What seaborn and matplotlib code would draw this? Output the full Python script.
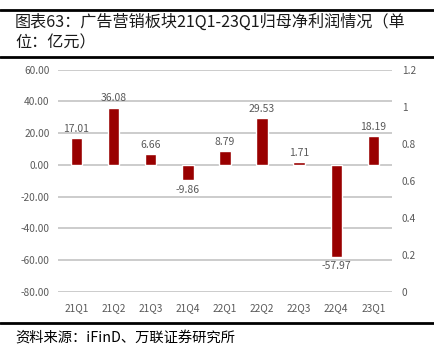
import numpy as np
import pandas as pd
import seaborn as sns
import matplotlib.pyplot as plt
from matplotlib.lines import Line2D

quarters = ["21Q1", "21Q2", "21Q3", "21Q4", "22Q1", "22Q2", "22Q3", "22Q4", "23Q1"]
profit = [17.01, 36.08, 6.66, -9.86, 8.79, 29.53, 1.71, -57.97, 18.19]
left_ticks = [-80, -60, -40, -20, 0, 20, 40, 60]
right_ticks = [0, 0.2, 0.4, 0.6, 0.8, 1.0, 1.2]
right_labels = ["0", "0.2", "0.4", "0.6", "0.8", "1", "1.2"]

title = "图表63：广告营销板块21Q1-23Q1归母净利润情况（单\n位：亿元）"
source = "资料来源：iFinD、万联证券研究所"

sns.set_style("white")
plt.rcParams['font.family'] = ['Noto Sans CJK SC', 'DejaVu Sans']

bar_col = "#990000"
grey = "#595959"

df = pd.DataFrame({"quarter": quarters, "profit": profit})

fig = plt.figure(figsize=(4.35, 3.54), dpi=100)
ax = fig.add_axes([0.133, 0.176, 0.768, 0.627])

sns.barplot(data=df, x="quarter", y="profit", color=bar_col, width=0.31,
            saturation=1, ax=ax, zorder=3)
ax.set_ylim(-80, 60)
ax.set_yticks(left_ticks)
ax.set_yticklabels([f"{v:.2f}" for v in left_ticks])
ax.yaxis.grid(True, color="#C8C8C8", lw=1.3, zorder=0)
ax.set_axisbelow(True)
ax.set_xlabel("")
ax.set_ylabel("")
for s in ax.spines.values():
    s.set_visible(False)
ax.tick_params(axis="both", length=0, labelsize=7.3, colors=grey)
ax.tick_params(axis="x", pad=8)
ax.tick_params(axis="y", pad=6)
ax.set_xlim(-0.5, len(quarters) - 0.5)

# value labels
for i, v in enumerate(profit):
    if v >= 0:
        ax.annotate(f"{v:.2f}", (i, v), xytext=(0, 3), textcoords="offset points",
                    ha="center", va="bottom", fontsize=7.5, color=grey)
    else:
        ax.annotate(f"{v:.2f}", (i, v), xytext=(0, -3), textcoords="offset points",
                    ha="center", va="top", fontsize=7.5, color=grey)

ax2 = ax.twinx()
ax2.set_ylim(0, 1.2)
ax2.set_yticks(right_ticks)
ax2.set_yticklabels(right_labels)
ax2.tick_params(axis="y", length=0, labelsize=7.3, colors=grey, pad=7)
for s in ax2.spines.values():
    s.set_visible(False)

# title, rules and source
fig.add_artist(Line2D([0, 1], [1 - 10 / 354] * 2, color="black", lw=2))
fig.add_artist(Line2D([0, 1], [1 - 57 / 354] * 2, color="black", lw=2))
fig.add_artist(Line2D([0, 1], [1 - 323 / 354] * 2, color="black", lw=2))
fig.text(15 / 435, 1 - 14 / 354, title, ha="left", va="top", fontsize=11.6,
         color="#1a1a1a", linespacing=1.25)
fig.text(15 / 435, 1 - 339 / 354, source, ha="left", va="center", fontsize=10.3,
         color="black", style="italic")

plt.savefig("out.png", dpi=100)
